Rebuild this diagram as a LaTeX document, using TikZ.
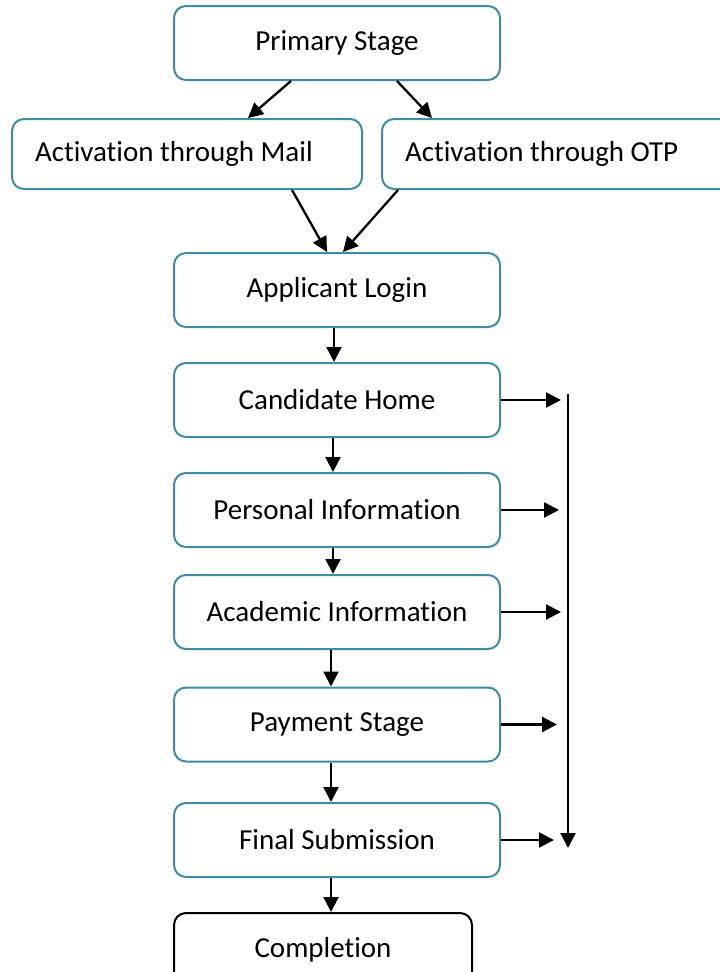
\documentclass[tikz,border=0pt]{standalone}
\usepackage{fontspec}
\setmainfont[Ligatures=NoCommon]{Carlito}
\usetikzlibrary{arrows.meta,calc}
\definecolor{boxteal}{HTML}{3E8CA3}
\tikzset{
  stagebox/.style={draw=boxteal, line width=2pt, rounded corners=12pt, fill=white,
    minimum width=326pt, minimum height=74pt, inner sep=0pt, font=\fontsize{29}{34}\selectfont},
  actbox/.style={draw=boxteal, line width=2pt, rounded corners=12pt, fill=white,
    minimum height=70pt, inner xsep=23pt, inner ysep=0pt, align=flush left, anchor=west,
    font=\fontsize{29}{34}\selectfont},
  endbox/.style={stagebox, draw=black, minimum width=298pt},
  arr/.style={line width=2.3pt, -{Triangle[length=15pt,width=15pt]}}
}
\begin{document}
\begin{tikzpicture}[x=1pt,y=-1pt]
\clip (0,0) rectangle (720,972);
\fill[white] (0,0) rectangle (720,972);
\node[stagebox] (prim) at (337,43) {Primary Stage};
\node[actbox, text width=304pt] (mail) at (11,154) {Activation through Mail};
\node[actbox, text width=310pt] (otp) at (381,154) {Activation through OTP};
\node[stagebox] (login) at (337,290) {Applicant Login};
\node[stagebox] (cand) at (337,400) {Candidate Home};
\node[stagebox] (pers) at (337,510) {Personal Information};
\node[stagebox] (acad) at (337,612) {Academic Information};
\node[stagebox] (pay) at (337,724.5) {Payment Stage};
\node[stagebox] (fin) at (337,840) {Final Submission};
\node[endbox] (comp) at (323,950) {Completion};

\draw[arr] ([xshift=118pt]prim.south west) -- ([xshift=237pt]mail.north west);
\draw[arr] ([xshift=224pt]prim.south west) -- ([xshift=51pt]otp.north west);
\draw[arr] ([xshift=281pt]mail.south west) -- ([xshift=154pt]login.north west);
\draw[arr] ([xshift=17pt]otp.south west) -- ([xshift=170pt]login.north west);

\draw[arr] ([xshift=-3pt]login.south) -- ([xshift=-3pt]cand.north);
\draw[arr] ([xshift=-4pt]cand.south) -- ([xshift=-4pt]pers.north);
\draw[arr] ([xshift=-4pt]pers.south) -- ([xshift=-4pt]acad.north);
\draw[arr] ([xshift=-6pt]acad.south) -- ([xshift=-6pt]pay.north);
\draw[arr] ([xshift=-6pt]pay.south) -- ([xshift=-6pt]fin.north);
\draw[arr] ([xshift=-6pt]fin.south) -- ([xshift=-6pt]comp.north -| fin.south);

\coordinate (vtop) at (568,394);
\coordinate (vbot) at (568,848);
\draw[arr] (vtop) -- (vbot);
\draw[arr] (cand.east) -- ++(60,0);
\draw[arr] (pers.east) -- ++(58,0);
\draw[arr] (acad.east) -- ++(60,0);
\draw[arr] (pay.east) -- ++(56,0);
\draw[arr] (fin.east) -- ++(53,0);
\end{tikzpicture}
\end{document}
